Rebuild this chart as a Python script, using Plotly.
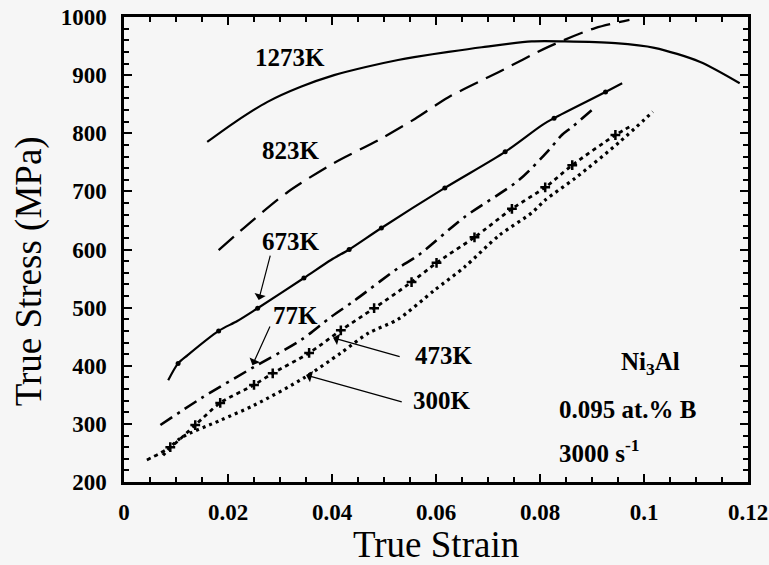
import plotly.graph_objects as go

# ---- data (true strain, true stress MPa) ----
t1273_x = [0.016, 0.0215, 0.0276, 0.034, 0.0404, 0.0465, 0.0527, 0.0558, 0.0624, 0.0688, 0.0784, 0.0848, 0.0945, 0.102, 0.1107, 0.1184]
t1273_y = [785, 820, 854, 880, 900, 914, 926, 931, 940, 948, 958, 958, 955, 947, 923, 886]

t823_x = [0.0182, 0.025, 0.0315, 0.0404, 0.0489, 0.056, 0.0624, 0.072, 0.0817, 0.0906, 0.0972]
t823_y = [599, 652, 699, 749, 788, 825, 862, 905, 949, 981, 995]

t673_x = [0.0085, 0.0104, 0.0122, 0.0182, 0.0218, 0.0257, 0.0346, 0.0398, 0.0433, 0.0495, 0.0617, 0.0733, 0.0804, 0.0827, 0.0926, 0.0958]
t673_y = [375, 404, 418, 460, 477, 499, 551, 582, 600, 637, 706, 768, 814, 826, 871, 886]
t673_mx = [0.0104, 0.0182, 0.0257, 0.0346, 0.0433, 0.0495, 0.0617, 0.0733, 0.0827, 0.0926]
t673_my = [404, 460, 499, 551, 600, 637, 706, 768, 826, 871]

t77_x = [0.007, 0.015, 0.025, 0.034, 0.0398, 0.0443, 0.0527, 0.0566, 0.0655, 0.0759, 0.0817, 0.0842, 0.0862, 0.090]
t77_y = [298, 345, 398, 444, 484, 512, 568, 590, 656, 719, 771, 797, 811, 840]

t473_x = [0.0044, 0.0089, 0.0137, 0.0185, 0.025, 0.0286, 0.0356, 0.0417, 0.0481, 0.0553, 0.0601, 0.0674, 0.0746, 0.081, 0.0862, 0.0945, 0.0978]
t473_y = [238, 260, 298, 336, 367, 387, 422, 461, 499, 544, 577, 621, 670, 707, 745, 797, 814]
t473_mx = t473_x[1:-1]
t473_my = t473_y[1:-1]

t300_x = [0.0075, 0.0108, 0.0185, 0.025, 0.0346, 0.0417, 0.047, 0.0527, 0.0597, 0.0655, 0.0721, 0.0784, 0.081, 0.0868, 0.0953, 0.1017]
t300_y = [246, 275, 306, 332, 379, 422, 456, 480, 530, 570, 624, 663, 685, 723, 785, 837]

x_ticks = [0, 0.02, 0.04, 0.06, 0.08, 0.1, 0.12]
x_ticklabels = ["0", "0.02", "0.04", "0.06", "0.08", "0.1", "0.12"]
y_ticks = [200, 300, 400, 500, 600, 700, 800, 900, 1000]

FONT = "Liberation Serif, Times New Roman, serif"
BG = "#f6f6f6"
INK = "black"

fig = go.Figure()
fig.add_trace(go.Scatter(x=t1273_x, y=t1273_y, mode="lines", line=dict(color=INK, width=2.2, shape="spline", smoothing=0.8), name="1273K"))
fig.add_trace(go.Scatter(x=t823_x, y=t823_y, mode="lines", line=dict(color=INK, width=2.3, dash="20px,9px", shape="spline", smoothing=0.8), name="823K"))
fig.add_trace(go.Scatter(x=t673_x, y=t673_y, mode="lines", line=dict(color=INK, width=2.2, shape="spline", smoothing=0.8), name="673K"))
fig.add_trace(go.Scatter(x=t673_mx, y=t673_my, mode="markers", marker=dict(color=INK, size=5, symbol="circle"), name="673K pts"))
fig.add_trace(go.Scatter(x=t77_x, y=t77_y, mode="lines", line=dict(color=INK, width=2.6, dash="14px,6px,3px,6px", shape="spline", smoothing=0.8), name="77K"))
fig.add_trace(go.Scatter(x=t473_x, y=t473_y, mode="lines", line=dict(color=INK, width=2.8, dash="4px,4px", shape="spline", smoothing=0.8), name="473K"))
fig.add_trace(go.Scatter(x=t473_mx, y=t473_my, mode="markers", marker=dict(color=INK, size=7, symbol="cross-thin", line=dict(color=INK, width=2.5)), name="473K pts"))
fig.add_trace(go.Scatter(x=t300_x, y=t300_y, mode="lines", line=dict(color=INK, width=3.2, dash="3px,4px", shape="spline", smoothing=0.8), name="300K"))

axis_common = dict(
    showline=True, linecolor=INK, linewidth=2.5, mirror="ticks",
    ticks="inside", ticklen=8, tickwidth=1.8, tickcolor=INK,
    showgrid=False, zeroline=False, automargin=False,
    tickfont=dict(family=FONT, size=23, color=INK, weight="bold"),
)

fig.update_xaxes(
    range=[0, 0.12], tickvals=x_ticks, ticktext=x_ticklabels,
    minor=dict(dtick=0.005, tick0=0, ticks="inside", ticklen=5, tickwidth=1.5, tickcolor=INK),
    ticklabelstandoff=8,
    **axis_common,
)
fig.update_yaxes(
    range=[200, 1000], tickvals=y_ticks,
    minor=dict(dtick=20, tick0=200, ticks="inside", ticklen=5, tickwidth=1.5, tickcolor=INK),
    ticklabelstandoff=10,
    **axis_common,
)

title_font = dict(family=FONT, size=37, color=INK)
lab_font = dict(family=FONT, size=25, color=INK, weight="bold")
annotations = [
    dict(text="True Strain", x=0.5, y=-0.135, xref="paper", yref="paper", showarrow=False,
         font=title_font, xanchor="center", yanchor="middle"),
    dict(text="True Stress (MPa)", x=-0.153, y=0.452, xref="paper", yref="paper", showarrow=False,
         font=title_font, textangle=-90, xanchor="center", yanchor="middle"),
]
labels = [
    ("1273K", 0.0319, 931),
    ("823K", 0.0321, 771),
    ("673K", 0.0321, 613),
    ("77K", 0.0329, 487),
    ("473K", 0.0616, 418),
    ("300K", 0.0612, 341),
]
annotations += [dict(text=t, x=x, y=y, xref="x", yref="y", showarrow=False, font=lab_font) for t, x, y in labels]

arrows = [
    (0.0282, 592, 0.0259, 513),
    (0.0282, 470, 0.0247, 401),
    (0.0533, 415, 0.0402, 448),
    (0.0537, 337, 0.0350, 384),
]
for ax_, ay_, hx, hy in arrows:
    annotations.append(dict(text="", x=hx, y=hy, ax=ax_, ay=ay_, xref="x", yref="y", axref="x", ayref="y",
                            showarrow=True, arrowhead=1, arrowsize=1.6, arrowwidth=1.2, arrowcolor=INK))

annotations += [
    dict(text="Ni<sub>3</sub>Al", x=0.1012, y=404, xref="x", yref="y", showarrow=False, font=lab_font, xanchor="center"),
    dict(text="0.095 at.% B", x=0.0833, y=324, xref="x", yref="y", showarrow=False, font=lab_font, xanchor="left"),
    dict(text="3000 s<sup>-1</sup>", x=0.0833, y=254, xref="x", yref="y", showarrow=False, font=lab_font, xanchor="left"),
]

fig.update_layout(
    width=769, height=565,
    margin=dict(l=124, r=21, t=17, b=83, autoexpand=False),
    paper_bgcolor=BG, plot_bgcolor=BG,
    showlegend=False,
    annotations=annotations,
    font=dict(family=FONT, color=INK),
)

# remove the default page margin so the figure sits at the window's top-left corner
fig.write_html(
    "out.html",
    config={"displayModeBar": False},
    post_script="document.body.style.margin='0';document.body.style.overflow='hidden';",
)
